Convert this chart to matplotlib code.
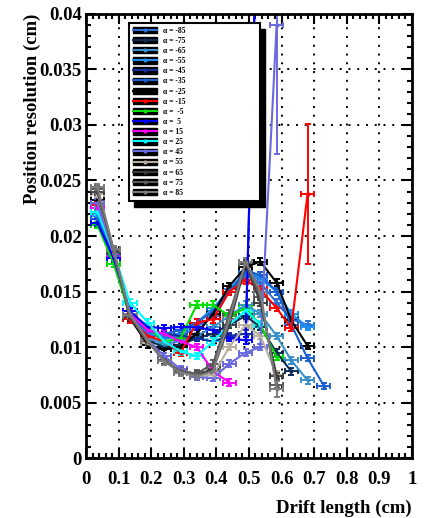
import matplotlib
matplotlib.use('Agg')
import matplotlib.pyplot as plt
from matplotlib.patches import Rectangle
from matplotlib.lines import Line2D
from matplotlib.legend_handler import HandlerTuple
from matplotlib.ticker import MultipleLocator, FuncFormatter

plt.rcParams['font.family'] = ['Liberation Serif', 'DejaVu Serif']
plt.rcParams['font.weight'] = 'bold'

# drift-length bin centres (cm)
drift = [0.035, 0.085, 0.135, 0.19, 0.24, 0.29, 0.34, 0.39, 0.44, 0.49, 0.535, 0.585, 0.63, 0.68, 0.73]
drift_err = 0.02

alphas = [-85, -75, -65, -55, -45, -35, -25, -15, -5, 5, 15, 25, 45, 55, 65, 75, 85]
colors = ['#2f6fd6', '#0b2c55', '#3a8fc8', '#1e8ff0', '#12309e', '#1a5fd0', '#000000', '#ff0000',
          '#00e000', '#0000ff', '#ff00ff', '#00ffff', '#6a6ae0', '#b8b0a0', '#3c3c3c', '#5a5a5a', '#7c7c7c']

res_m85 = [0.0215, 0.0182, 0.0128, 0.0112, 0.0108, 0.0110, 0.0118, 0.0128, 0.0150, 0.0165, 0.0158, 0.0140, 0.0125, 0.0120]
res_m75 = [0.0225, 0.0185, 0.0126, 0.0106, 0.0100, 0.0102, 0.0108, 0.0112, 0.0120, 0.0128, 0.0118, 0.0095, 0.0078]
res_m65 = [0.0220, 0.0184, 0.0127, 0.0108, 0.0103, 0.0105, 0.0110, 0.0118, 0.0128, 0.0138, 0.0130, 0.0110, 0.0088, 0.0070]
res_m55 = [0.0218, 0.0183, 0.0130, 0.0112, 0.0110, 0.0112, 0.0122, 0.0135, 0.0152, 0.0168, 0.0162, 0.0150, 0.0130, 0.0118]
res_m45 = [0.0212, 0.0180, 0.0132, 0.0115, 0.0112, 0.0110, 0.0108, 0.0105, 0.0110, 0.0112, 0.0600]
res_m35 = [0.0215, 0.0182, 0.0128, 0.0114, 0.0112, 0.0115, 0.0122, 0.0132, 0.0150, 0.0168, 0.0165, 0.0150, 0.0120, 0.0090, 0.0065]
res_m25 = [0.0232, 0.0186, 0.0126, 0.0102, 0.0098, 0.0100, 0.0112, 0.0130, 0.0155, 0.0172, 0.0177, 0.0158, 0.0124, 0.0101]
res_m15 = [0.0228, 0.0185, 0.0125, 0.0110, 0.0105, 0.0095, 0.0122, 0.0125, 0.0150, 0.0160, 0.0152, 0.0135, 0.0117, 0.0238]
res_m5 = [0.0210, 0.0175, 0.0128, 0.0118, 0.0105, 0.0108, 0.0138, 0.0138, 0.0128, 0.0135, 0.0120, 0.0091]
res_p5 = [0.0212, 0.0180, 0.0132, 0.0118, 0.0117, 0.0118, 0.0118, 0.0115, 0.0108, 0.0106, 0.0600]
res_p15 = [0.0225, 0.0184, 0.0130, 0.0115, 0.0112, 0.0105, 0.0100, 0.0078, 0.0068]
res_p25 = [0.0222, 0.0185, 0.0140, 0.0122, 0.0105, 0.0096, 0.0092, 0.0105, 0.0120, 0.0133, 0.0120]
res_p45 = [0.0230, 0.0185, 0.0130, 0.0106, 0.0092, 0.0080, 0.0073, 0.0072, 0.0085, 0.0095, 0.0100, 0.0390]
res_p55 = [0.0238, 0.0186, 0.0128, 0.0104, 0.0088, 0.0078, 0.0074, 0.0075, 0.0100, 0.0120, 0.0110, 0.0075]
res_p65 = [0.0240, 0.0186, 0.0127, 0.0105, 0.0088, 0.0078, 0.0075, 0.0080, 0.0120, 0.0175, 0.0140, 0.0074]
res_p75 = [0.0242, 0.0187, 0.0128, 0.0105, 0.0087, 0.0078, 0.0076, 0.0085, 0.0130, 0.0176, 0.0145, 0.0066]
res_p85 = [0.0244, 0.0188, 0.0129, 0.0106, 0.0087, 0.0077, 0.0074, 0.0078, 0.0125, 0.0177, 0.0150, 0.0062]

resolutions = [res_m85, res_m75, res_m65, res_m55, res_m45, res_m35, res_m25, res_m15, res_m5,
               res_p5, res_p15, res_p25, res_p45, res_p55, res_p65, res_p75, res_p85]

res_err = 0.0003
# a few points with large statistical errors: (alpha, point index) -> error
big_err = {(-15, 13): 0.0063, (45, 11): 0.0116, (85, 11): 0.0007}

fig = plt.figure(figsize=(4.29, 5.18), dpi=100)
ax = fig.add_axes([0.2005, 0.1158, 0.7595, 0.8572])

for a, c, res in zip(alphas, colors, resolutions):
    xs = drift[:len(res)]
    errs = [big_err.get((a, i), res_err) for i in range(len(res))]
    ax.errorbar(xs, res, xerr=drift_err, yerr=errs, fmt='-', color=c, lw=1.5,
                marker='o', ms=2, elinewidth=1.4, capsize=2, capthick=1.4)

ax.set_xlim(0, 1)
ax.set_ylim(0, 0.04)
ax.xaxis.set_major_locator(MultipleLocator(0.1))
ax.xaxis.set_minor_locator(MultipleLocator(0.02))
ax.yaxis.set_major_locator(MultipleLocator(0.005))
ax.yaxis.set_minor_locator(MultipleLocator(0.001))
ax.xaxis.set_major_formatter(FuncFormatter(lambda v, p: f'{v:g}'))
ax.yaxis.set_major_formatter(FuncFormatter(lambda v, p: f'{v:g}'))

ax.grid(True, which='major', color='black', linestyle=(0, (1, 3.5)), linewidth=1.4)
ax.tick_params(which='both', direction='in', top=True, right=True, width=1.5, labelsize=13.5)
ax.tick_params(which='major', length=7)
ax.tick_params(which='minor', length=3.5)
ax.tick_params(axis='x', pad=9)
ax.tick_params(axis='y', pad=3)
for s in ax.spines.values():
    s.set_linewidth(2)

ax.set_xlabel('Drift length (cm)', fontsize=13.5, fontweight='bold', loc='right', labelpad=9)
ax.set_ylabel('Position resolution (cm)', fontsize=13.5, fontweight='bold', loc='top', labelpad=-1)

# legend with ROOT-like black shadow
handles = []
for c in colors:
    box = Rectangle((0, 0), 1, 1, facecolor='black', edgecolor='black')
    ln = Line2D([], [], color=c, lw=1.5, marker='o', ms=2)
    handles.append((box, ln))
labels = [f'α = {a:d}' if abs(a) >= 10 else f'α =  {a:d}' for a in alphas]

lx0, ly0, lx1, ly1 = 0.132, 0.583, 0.534, 0.980
leg = ax.legend(handles, labels, handler_map={tuple: HandlerTuple(ndivide=1, pad=0)},
                loc='upper left', bbox_to_anchor=(lx0, ly0, lx1 - lx0, ly1 - ly0), mode='expand',
                borderaxespad=0, fontsize=5.5, handlelength=3.2, handleheight=0.9,
                handletextpad=0.7, labelspacing=0.28, borderpad=0.5, fancybox=False,
                framealpha=1, edgecolor='black')
leg.get_frame().set_linewidth(1.5)
leg.set_zorder(10)

fig.canvas.draw()
bb = leg.get_frame().get_window_extent().transformed(ax.transAxes.inverted())
shadow = Rectangle((bb.x0 + 0.016, bb.y0 - 0.014), bb.width, bb.height, transform=ax.transAxes,
                   facecolor='black', edgecolor='black', zorder=9)
ax.add_patch(shadow)

fig.savefig('out.png', dpi=100)
